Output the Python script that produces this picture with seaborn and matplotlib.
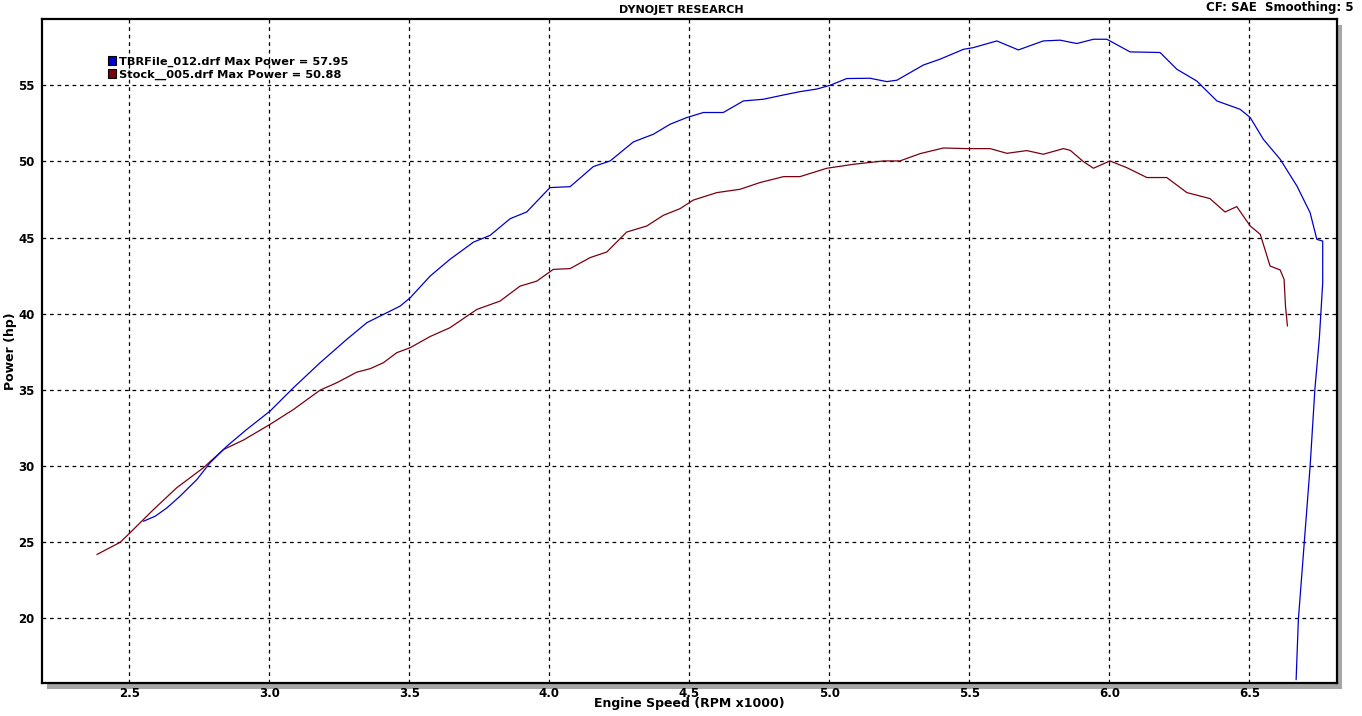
import matplotlib
matplotlib.use("Agg")
import matplotlib.pyplot as plt
from matplotlib.patches import Rectangle, Patch
from matplotlib.ticker import MultipleLocator, FormatStrFormatter
import seaborn as sns
import pandas as pd

# ---- data ----
tbr_rpm = [2.550, 2.592, 2.634, 2.681, 2.741, 2.788, 2.848, 2.919, 3.002, 3.086,
           3.181, 3.276, 3.348, 3.419, 3.467, 3.503, 3.574, 3.645, 3.729, 3.788,
           3.860, 3.919, 4.002, 4.074, 4.157, 4.217, 4.300, 4.371, 4.431, 4.491,
           4.550, 4.621, 4.693, 4.764, 4.836, 4.895, 4.955, 5.003, 5.062, 5.145,
           5.205, 5.241, 5.336, 5.395, 5.479, 5.514, 5.598, 5.675, 5.764, 5.824,
           5.884, 5.943, 5.991, 6.074, 6.181, 6.241, 6.312, 6.384, 6.467, 6.503,
           6.550, 6.610, 6.670, 6.717, 6.741, 6.762, 6.762, 6.750, 6.734, 6.717,
           6.696, 6.675, 6.667]
tbr_hp = [26.37, 26.70, 27.25, 28.02, 29.11, 30.21, 31.30, 32.40, 33.60, 35.14,
          36.78, 38.31, 39.41, 40.06, 40.50, 41.05, 42.47, 43.57, 44.70, 45.14,
          46.24, 46.68, 48.28, 48.34, 49.66, 50.03, 51.28, 51.78, 52.44, 52.88,
          53.21, 53.21, 53.97, 54.08, 54.36, 54.58, 54.75, 55.00, 55.44, 55.46,
          55.24, 55.33, 56.33, 56.71, 57.36, 57.47, 57.91, 57.32, 57.91, 57.96,
          57.74, 58.02, 58.02, 57.19, 57.15, 56.05, 55.28, 53.97, 53.42, 52.88,
          51.45, 50.14, 48.38, 46.63, 44.88, 44.77, 42.04, 38.40, 35.03, 29.99,
          24.95, 19.91, 15.97]

stock_rpm = [2.384, 2.467, 2.502, 2.586, 2.669, 2.764, 2.836, 2.907, 3.002, 3.086,
             3.181, 3.241, 3.312, 3.360, 3.407, 3.455, 3.503, 3.574, 3.645, 3.741,
             3.824, 3.895, 3.955, 4.014, 4.074, 4.145, 4.205, 4.276, 4.348, 4.407,
             4.467, 4.514, 4.598, 4.681, 4.752, 4.836, 4.895, 4.991, 5.086, 5.193,
             5.252, 5.324, 5.407, 5.491, 5.574, 5.634, 5.705, 5.764, 5.836, 5.860,
             5.907, 5.943, 6.002, 6.062, 6.134, 6.205, 6.277, 6.359, 6.413, 6.455,
             6.503, 6.539, 6.574, 6.610, 6.624, 6.629, 6.636]
stock_hp = [24.19, 24.99, 25.61, 27.14, 28.57, 29.88, 31.08, 31.70, 32.73, 33.71,
            34.98, 35.47, 36.16, 36.39, 36.78, 37.44, 37.77, 38.50, 39.08, 40.28,
            40.83, 41.81, 42.14, 42.91, 42.96, 43.68, 44.05, 45.36, 45.76, 46.46,
            46.90, 47.46, 47.95, 48.17, 48.61, 49.00, 49.00, 49.55, 49.81, 50.03,
            50.03, 50.51, 50.88, 50.84, 50.84, 50.53, 50.71, 50.47, 50.84, 50.73,
            49.99, 49.55, 50.03, 49.59, 48.94, 48.94, 47.95, 47.56, 46.68, 47.03,
            45.76, 45.21, 43.13, 42.87, 42.25, 40.50, 39.19]

series_labels = ["TBRFile_012.drf Max Power = 57.95",
                 "Stock__005.drf Max Power = 50.88"]
series_colors = ["#0000cc", "#7a0010"]
x_ticks = [2.5, 3.0, 3.5, 4.0, 4.5, 5.0, 5.5, 6.0, 6.5]
y_ticks = [20, 25, 30, 35, 40, 45, 50, 55]

# ---- figure ----
sns.set_theme(style="white")
plt.rcParams['font.family'] = ['DejaVu Sans']
plt.rcParams['text.color'] = 'black'
plt.rcParams['axes.labelcolor'] = 'black'
plt.rcParams['xtick.color'] = 'black'
plt.rcParams['ytick.color'] = 'black'
W, H = 1362, 716
fig = plt.figure(figsize=(W / 100, H / 100), dpi=100)
x0, x1, y0, y1 = 41.5, 1337, 19, 683
ax = fig.add_axes([x0 / W, 1 - y1 / H, (x1 - x0) / W, (y1 - y0) / H])

# shadow
fig.patches.append(Rectangle(((x0 + 5) / W, 1 - (y1 + 6) / H), (x1 - x0) / W, (y1 - y0) / H,
                             transform=fig.transFigure, facecolor="#a6a6a6",
                             edgecolor="none", zorder=-5))

df_tbr = pd.DataFrame({"rpm": tbr_rpm, "hp": tbr_hp})
df_stock = pd.DataFrame({"rpm": stock_rpm, "hp": stock_hp})

sns.lineplot(data=df_stock, x="rpm", y="hp", sort=False, estimator=None,
             color=series_colors[1], lw=0.9, ax=ax, zorder=3)
sns.lineplot(data=df_tbr, x="rpm", y="hp", sort=False, estimator=None,
             color=series_colors[0], lw=0.9, ax=ax, zorder=4)

ax.set_xlim(2.186, 6.813)
ax.set_ylim(15.75, 59.35)
ax.set_xticks(x_ticks)
ax.set_yticks(y_ticks)
ax.xaxis.set_major_formatter(FormatStrFormatter("%.1f"))
ax.xaxis.set_minor_locator(MultipleLocator(0.1))
ax.yaxis.set_minor_locator(MultipleLocator(1))
ax.grid(True, which="major", color="black", linestyle=(0, (3, 3)), linewidth=0.9)
ax.tick_params(which="both", direction="inout", length=6, width=1.0, color="black",
               labelsize=8.5, labelcolor="black")
ax.tick_params(axis="x", which="major", pad=0)
ax.tick_params(axis="y", which="major", pad=2)
for lab in ax.get_xticklabels() + ax.get_yticklabels():
    lab.set_fontweight("bold")
for s in ax.spines.values():
    s.set_color("black")
    s.set_linewidth(1.6)

ax.set_xlabel("Engine Speed (RPM x1000)", fontsize=9, fontweight="bold", color="black")
ax.set_ylabel("Power (hp)", fontsize=9, fontweight="bold", color="black")
ax.xaxis.set_label_coords(0.5, -(704 - y1) / (y1 - y0))
ax.yaxis.set_label_coords(-(31 / (x1 - x0)), 0.5)
ax.xaxis.label.set_va("center")
ax.yaxis.label.set_va("center")

fig.text(681 / W, 1 - 10 / H, "DYNOJET RESEARCH", ha="center", va="center",
         fontsize=8, fontweight="bold", color="black")
fig.text(1354 / W, 1 - 7 / H, "CF: SAE  Smoothing: 5", ha="right", va="center",
         fontsize=8.5, fontweight="bold", color="black")

handles = [Patch(facecolor=c, edgecolor="black", linewidth=0.8) for c in series_colors]
leg = ax.legend(handles, series_labels, loc="upper left",
                bbox_to_anchor=(102 / W, 1 - 50 / H), bbox_transform=fig.transFigure,
                frameon=False, borderpad=0, handlelength=0.7, handleheight=0.9,
                handletextpad=0.3, labelspacing=0.2,
                prop={"weight": "bold", "size": 8.2})
for t in leg.get_texts():
    t.set_color("black")

fig.savefig("out.png", dpi=100, facecolor="white")
